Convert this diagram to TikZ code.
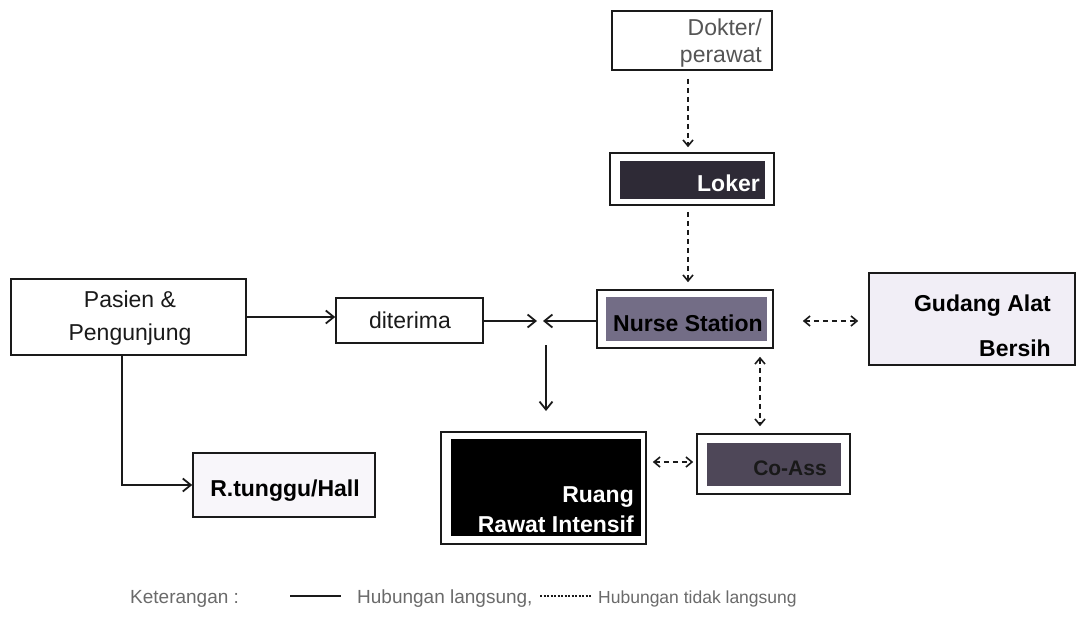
\documentclass[tikz,border=0pt]{standalone}
\usepackage{fontspec}
\setmainfont{Liberation Sans}
\usetikzlibrary{arrows.meta}
\definecolor{inkc}{HTML}{1A1A1A}
\definecolor{lokerfill}{HTML}{2E2A36}
\definecolor{nursefill}{HTML}{736D86}
\definecolor{coassfill}{HTML}{4E4758}
\definecolor{palefill}{HTML}{F1EEF6}
\definecolor{legendgray}{HTML}{6A6A6A}
\definecolor{dokgray}{HTML}{555555}
\tikzset{
  x=1pt, y=-1pt,
  box/.style={draw=inkc, line width=1.6pt, inner sep=0pt, fill=white},
  lbl/.style={font=\fontsize{23}{28}\selectfont, text=inkc, inner sep=0pt},
  blbl/.style={font=\fontsize{23}{28}\selectfont\bfseries, inner sep=0pt},
  leg/.style={font=\fontsize{19}{22}\selectfont, text=legendgray, inner sep=0pt, anchor=base west},
  direct/.style={draw=inkc, line width=1.8pt, -{Straight Barb[length=8pt,width=13pt,line width=1.8pt]}},
  ibarb/.style={},
  indirect/.style={draw=inkc, line width=1.6pt, dash pattern=on 5pt off 4pt, -{Straight Barb[length=6pt,width=10pt,line width=1.6pt]}},
  indirect2/.style={indirect, {Straight Barb[length=6pt,width=10pt,line width=1.6pt]}-{Straight Barb[length=6pt,width=10pt,line width=1.6pt]}},
}
\begin{document}
\begin{tikzpicture}
\useasboundingbox (0,0) rectangle (1077,635);

% outer frames
\node[box, minimum width=160pt, minimum height=59pt] (dok) at (692,40.5) {};
\node[box, minimum width=164pt, minimum height=52pt] (lok) at (692,179) {};
\node[box, minimum width=176pt, minimum height=58pt] (ns) at (685,319) {};
\node[box, minimum width=206pt, minimum height=92pt, fill=palefill] (gud) at (972,319) {};
\node[box, minimum width=235pt, minimum height=76pt] (pas) at (128.5,317) {};
\node[box, minimum width=147pt, minimum height=45pt] (dit) at (409.5,320.5) {};
\node[box, minimum width=182pt, minimum height=64pt, fill=palefill!50] (rtg) at (284,485) {};
\node[box, minimum width=205pt, minimum height=112pt] (rri) at (543.5,488) {};
\node[box, minimum width=153pt, minimum height=60pt] (coa) at (773.5,464) {};

% inner filled panels
\fill[lokerfill] ([shift={(11,9)}]lok.north west) rectangle ([shift={(-10,-7)}]lok.south east);
\fill[nursefill] ([shift={(10,8)}]ns.north west) rectangle ([shift={(-7,-8)}]ns.south east);
\fill[black] ([shift={(11,8)}]rri.north west) rectangle ([shift={(-6,-9)}]rri.south east);
\fill[coassfill] ([shift={(11,10)}]coa.north west) rectangle ([shift={(-10,-9)}]coa.south east);

% texts
\node[lbl, text=dokgray, anchor=base east] (dok1) at (762,35) {Dokter/};
\node[lbl, text=dokgray, anchor=base east] (dok2) at (762,62) {perawat};
\node[blbl, text=white, anchor=base east] (loktxt) at (760,191) {Loker};
\node[blbl, text=black, anchor=base] (nstxt) at (688,331) {Nurse Station};
\node[blbl, text=black, anchor=base east] (gud1) at (1051,311) {Gudang Alat};
\node[blbl, text=black, anchor=base east] (gud2) at (1051,356) {Bersih};
\node[lbl, anchor=base] (pas1) at (130,307) {Pasien \&};
\node[lbl, anchor=base] (pas2) at (130,340) {Pengunjung};
\node[lbl, anchor=base] (dittxt) at (410,328) {diterima};
\node[blbl, text=black, anchor=base] (rtgtxt) at (285,496) {R.tunggu/Hall};
\node[blbl, text=white, anchor=base east] (rri1) at (634,502) {Ruang};
\node[blbl, text=white, anchor=base east] (rri2) at (634,532) {Rawat Intensif};
\node[blbl, text=black!90, anchor=base, font=\fontsize{21}{24}\selectfont\bfseries] (coatxt) at (790,475) {Co-Ass};

% junction where admitted patients meet the nurse station
\coordinate (meet) at (540,321);
\coordinate (down) at (546,345);

% direct relations
\draw[direct] (pas.east |- 0,317) -- (dit.west |- 0,317);
\draw[direct] (dit.east |- 0,321) -- ([xshift=-3]meet);
\draw[direct] (ns.west |- 0,321) -- ([xshift=3]meet);
\draw[direct] (down) -- (down |- 0,411);
\draw[direct] (pas.south -| 122,0) |- (rtg.west);

% indirect relations
\draw[indirect] (dok.south -| 688,0) ++(0,8) -- ([yshift=5]lok.north -| 688,0);
\draw[indirect] (lok.south -| 688,0) ++(0,6) -- ([yshift=7]ns.north -| 688,0);
\draw[indirect2] ([xshift=29]ns.east |- 0,321) -- ([xshift=-10]gud.west |- 0,321);
\draw[indirect2] (ns.south -| 760,0) ++(0,8) -- ([yshift=7]coa.north -| 760,0);
\draw[indirect2] ([xshift=6]rri.east |- 0,462) -- ([xshift=-3]coa.west |- 0,462);

% legend
\node[leg] (ket) at (130,603) {Keterangan :};
\coordinate (ls1) at (290,596);
\coordinate (ls2) at (341,596);
\draw[inkc, line width=2pt] (ls1) -- (ls2);
\node[leg] (hl) at (357,603) {Hubungan langsung,};
\coordinate (ld1) at (540,596);
\coordinate (ld2) at (591,596);
\draw[inkc, line width=2pt, dash pattern=on 2pt off 1.5pt] (ld1) -- (ld2);
\node[leg, font=\fontsize{17.5}{20}\selectfont] (htl) at (598,603) {Hubungan tidak langsung};
\end{tikzpicture}
\end{document}
